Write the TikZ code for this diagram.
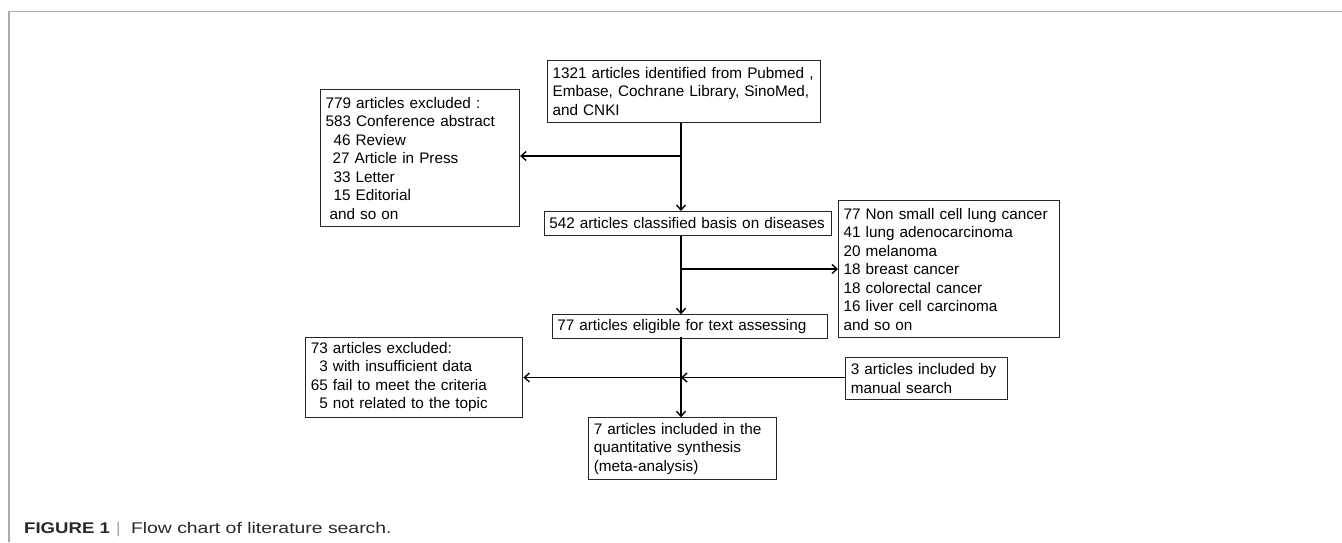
\documentclass[tikz,border=0pt]{standalone}
\usepackage{fontspec}
\setmainfont{Liberation Sans}
\newfontfamily\capfont[FakeStretch=1.25]{Liberation Sans}
\newfontfamily\capbold[FakeStretch=1.2]{Liberation Sans Bold}
\usetikzlibrary{arrows.meta}
\definecolor{framec}{RGB}{170,170,170}
\definecolor{capc}{RGB}{40,40,40}
\tikzset{
  box/.style={draw=black!85, line width=1.1pt, anchor=north west, align=left,
    inner xsep=5pt, inner ysep=0pt, font=\fontsize{15.3}{18.5}\selectfont},
  arr/.style={draw=black, line width=1.9pt, -{Straight Barb[length=5pt,width=9pt,line width=1.4pt]}},
}
\newcommand{\ind}[1]{\hspace*{#1pt}}
\begin{document}
\begin{tikzpicture}[x=1pt,y=-1pt]
\useasboundingbox (0,0) rectangle (1342,542);
\draw[framec, line width=1.3pt] (9,542) -- (9,11.7) -- (1342,11.7);

\node[box, minimum width=273pt, minimum height=61.5pt, text width=263pt] (top) at (547,60)
 {1321 articles identified from Pubmed ,\\Embase, Cochrane Library, SinoMed,\\and CNKI};
\node[box, minimum width=199pt, minimum height=137pt, text width=189pt] (ex1) at (320,89.3)
 {779 articles excluded :\\583 Conference abstract\\\ind{8}46 Review\\\ind{7}27 Article in Press\\\ind{8}33 Letter\\\ind{8}15 Editorial\\\ind{4}and so on};
\node[box, minimum width=287pt, minimum height=23.5pt, text width=277pt] (cls) at (543.7,211)
 {542 articles classified basis on diseases};
\node[box, minimum width=221pt, minimum height=137pt, text width=211pt] (dis) at (838,200)
 {77 Non small cell lung cancer\\41 lung adenocarcinoma\\20 melanoma\\18 breast cancer\\18 colorectal cancer\\16 liver cell carcinoma\\and so on};
\node[box, minimum width=275.6pt, minimum height=24pt, text width=265.6pt] (elig) at (551.7,314.3)
 {77 articles eligible for text assessing};
\node[box, minimum width=217pt, minimum height=80pt, text width=207pt] (ex2) at (305.3,336.7)
 {73 articles excluded:\\\ind{8.5}3 with insufficient data\\65 fail to meet the criteria\\\ind{8.5}5 not related to the topic};
\node[box, minimum width=162pt, minimum height=42.6pt, text width=152pt] (man) at (845.3,356.7)
 {3 articles included by\\manual search};
\node[box, minimum width=188pt, minimum height=62pt, text width=178pt] (fin) at (588.3,417.3)
 {7 articles included in the\\quantitative synthesis\\(meta-analysis)};

\coordinate (spine) at (681,0);
\coordinate (j1) at (681,156);
\coordinate (j2) at (681,269);
\coordinate (j3) at (681,377.5);

\draw[arr] (top.south -| spine) -- (cls.north -| spine);
\draw[arr] (j1) -- (ex1.east |- j1);
\draw[arr] (cls.south -| spine) -- (elig.north -| spine);
\draw[arr] (j2) -- (dis.west |- j2);
\draw[arr] ([yshift=2pt]elig.south -| spine) -- (fin.north -| spine);
\draw[arr] (j3) -- (ex2.east |- j3);
\draw[arr] (man.west |- j3) -- (j3);

\node[anchor=base west, inner sep=0pt, text=capc, font=\fontsize{15.5}{18}\selectfont] (cap) at (24,533)
 {{\capbold FIGURE 1}\hspace{6pt}{\capfont\color{framec}|}\hspace{10pt}{\capfont Flow chart of literature search.}};
\end{tikzpicture}
\end{document}
